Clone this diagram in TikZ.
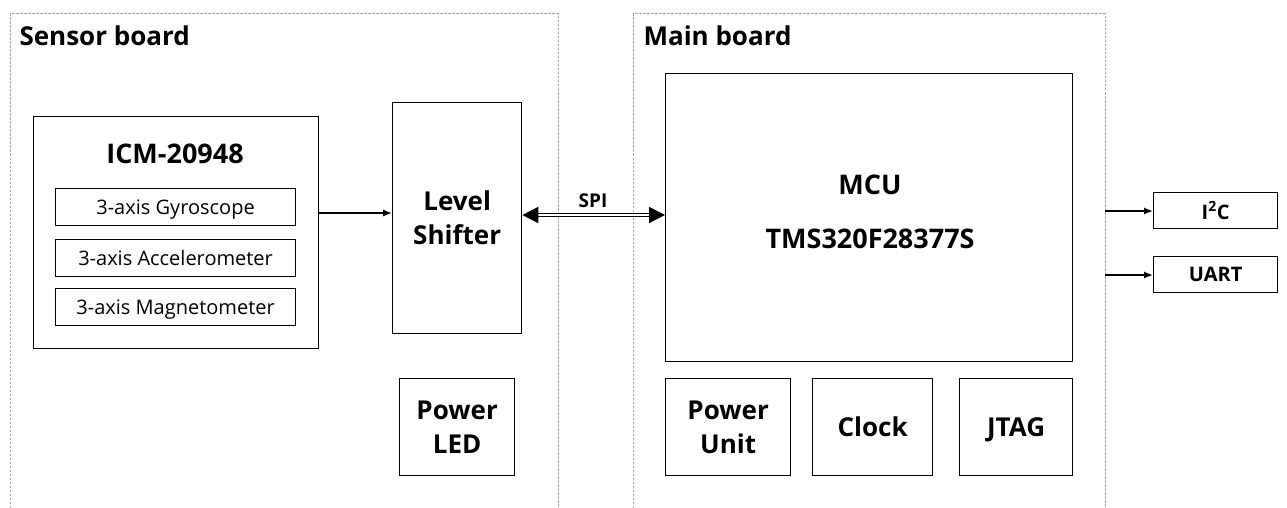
\documentclass[tikz,border=0pt]{standalone}
\usepackage{fontspec}
\setmainfont{Open Sans}
\usetikzlibrary{arrows.meta}
\begin{document}
\begin{tikzpicture}[x=1pt,y=-1pt,
	blk/.style={draw, line width=1.3pt, inner sep=0pt, font=\bfseries\fontsize{26}{34}\selectfont, align=center},
	sub/.style={draw, line width=1.1pt, inner sep=0pt, text depth=0pt, font=\fontsize{20}{24}\selectfont},
	board/.style={draw=gray!70, line width=1pt, dash pattern=on 2.5pt off 1.5pt},
	title/.style={anchor=base west, font=\bfseries\fontsize{26}{30}\selectfont},
	link/.style={-{Latex[length=9pt,width=7pt]}, line width=1.3pt}]
	\useasboundingbox (0,0) rectangle (1287,508);
	% boards
	\draw [board] (10,508) -- (10,14) -- (558,14) -- (558,508);
	\draw [board] (633,508) -- (633,14) -- (1105,14) -- (1105,508);
	\node [title] (sensor) at (16,46) {Sensor board};
	\node [title] (main) at (640,46) {Main board};
	% sensor board
	\node [blk, minimum width=285pt, minimum height=232pt, anchor=north west] (icm) at (33,116) {};
	\node [anchor=base, font=\bfseries\fontsize{27}{30}\selectfont] (icmname) at (175,163) {ICM-20948};
	\node [sub, minimum width=240pt, minimum height=37pt, anchor=north west] (gyro) at (55,188) {3-axis Gyroscope};
	\node [sub, minimum width=240pt, minimum height=37pt, anchor=north west] (acc) at (55,239) {3-axis Accelerometer};
	\node [sub, minimum width=240pt, minimum height=37pt, anchor=north west] (mag) at (55,288) {3-axis Magnetometer};
	\node [blk, minimum width=129pt, minimum height=231pt, anchor=north west] (shift) at (392,102) {Level\\Shifter};
	\node [blk, minimum width=115pt, minimum height=97pt, anchor=north west] (led) at (399,378) {Power\\LED};
	% main board
	\node [blk, minimum width=407pt, minimum height=288pt, anchor=north west] (mcu) at (665,73) {};
	\node [anchor=base, font=\bfseries\fontsize{27}{30}\selectfont] (mcuname) at (870,194) {MCU};
	\node [anchor=base, font=\bfseries\fontsize{27}{30}\selectfont] (tms) at (870,248) {TMS320F28377S};
	\node [blk, minimum width=125pt, minimum height=97pt, anchor=north west] (pwr) at (665,378) {Power\\Unit};
	\node [blk, minimum width=120pt, minimum height=97pt, anchor=north west] (clk) at (812,378) {Clock};
	\node [blk, minimum width=113pt, minimum height=97pt, anchor=north west, text depth=0pt] (jtag) at (959,378) {JTAG};
	% outputs
	\node [blk, minimum width=124pt, minimum height=36pt, anchor=north west, font=\bfseries\fontsize{20}{24}\selectfont] (i2c) at (1153,192) {I\textsuperscript{2}C};
	\node [blk, minimum width=124pt, minimum height=36pt, anchor=north west, font=\bfseries\fontsize{20}{24}\selectfont] (uart) at (1153,256) {UART};
	\coordinate (i2cout) at (1105,211);
	\coordinate (uartout) at (1105,275);
	% connections
	\draw [link] (icm.east |- 0,213) -- (shift.west |- 0,213);
	\draw [{Triangle[length=16pt,width=16pt]}-{Triangle[length=16pt,width=16pt]}, line width=1.5pt, double distance=1.5pt] (shift.east |- 0,215) -- (mcu.west |- 0,215);
	\node [anchor=base, font=\bfseries\fontsize{19}{22}\selectfont] (spi) at (593,207) {SPI};
	\draw [link] (i2cout) -- (i2c.west |- i2cout);
	\draw [link] (uartout) -- (uart.west |- uartout);
\end{tikzpicture}
\end{document}
